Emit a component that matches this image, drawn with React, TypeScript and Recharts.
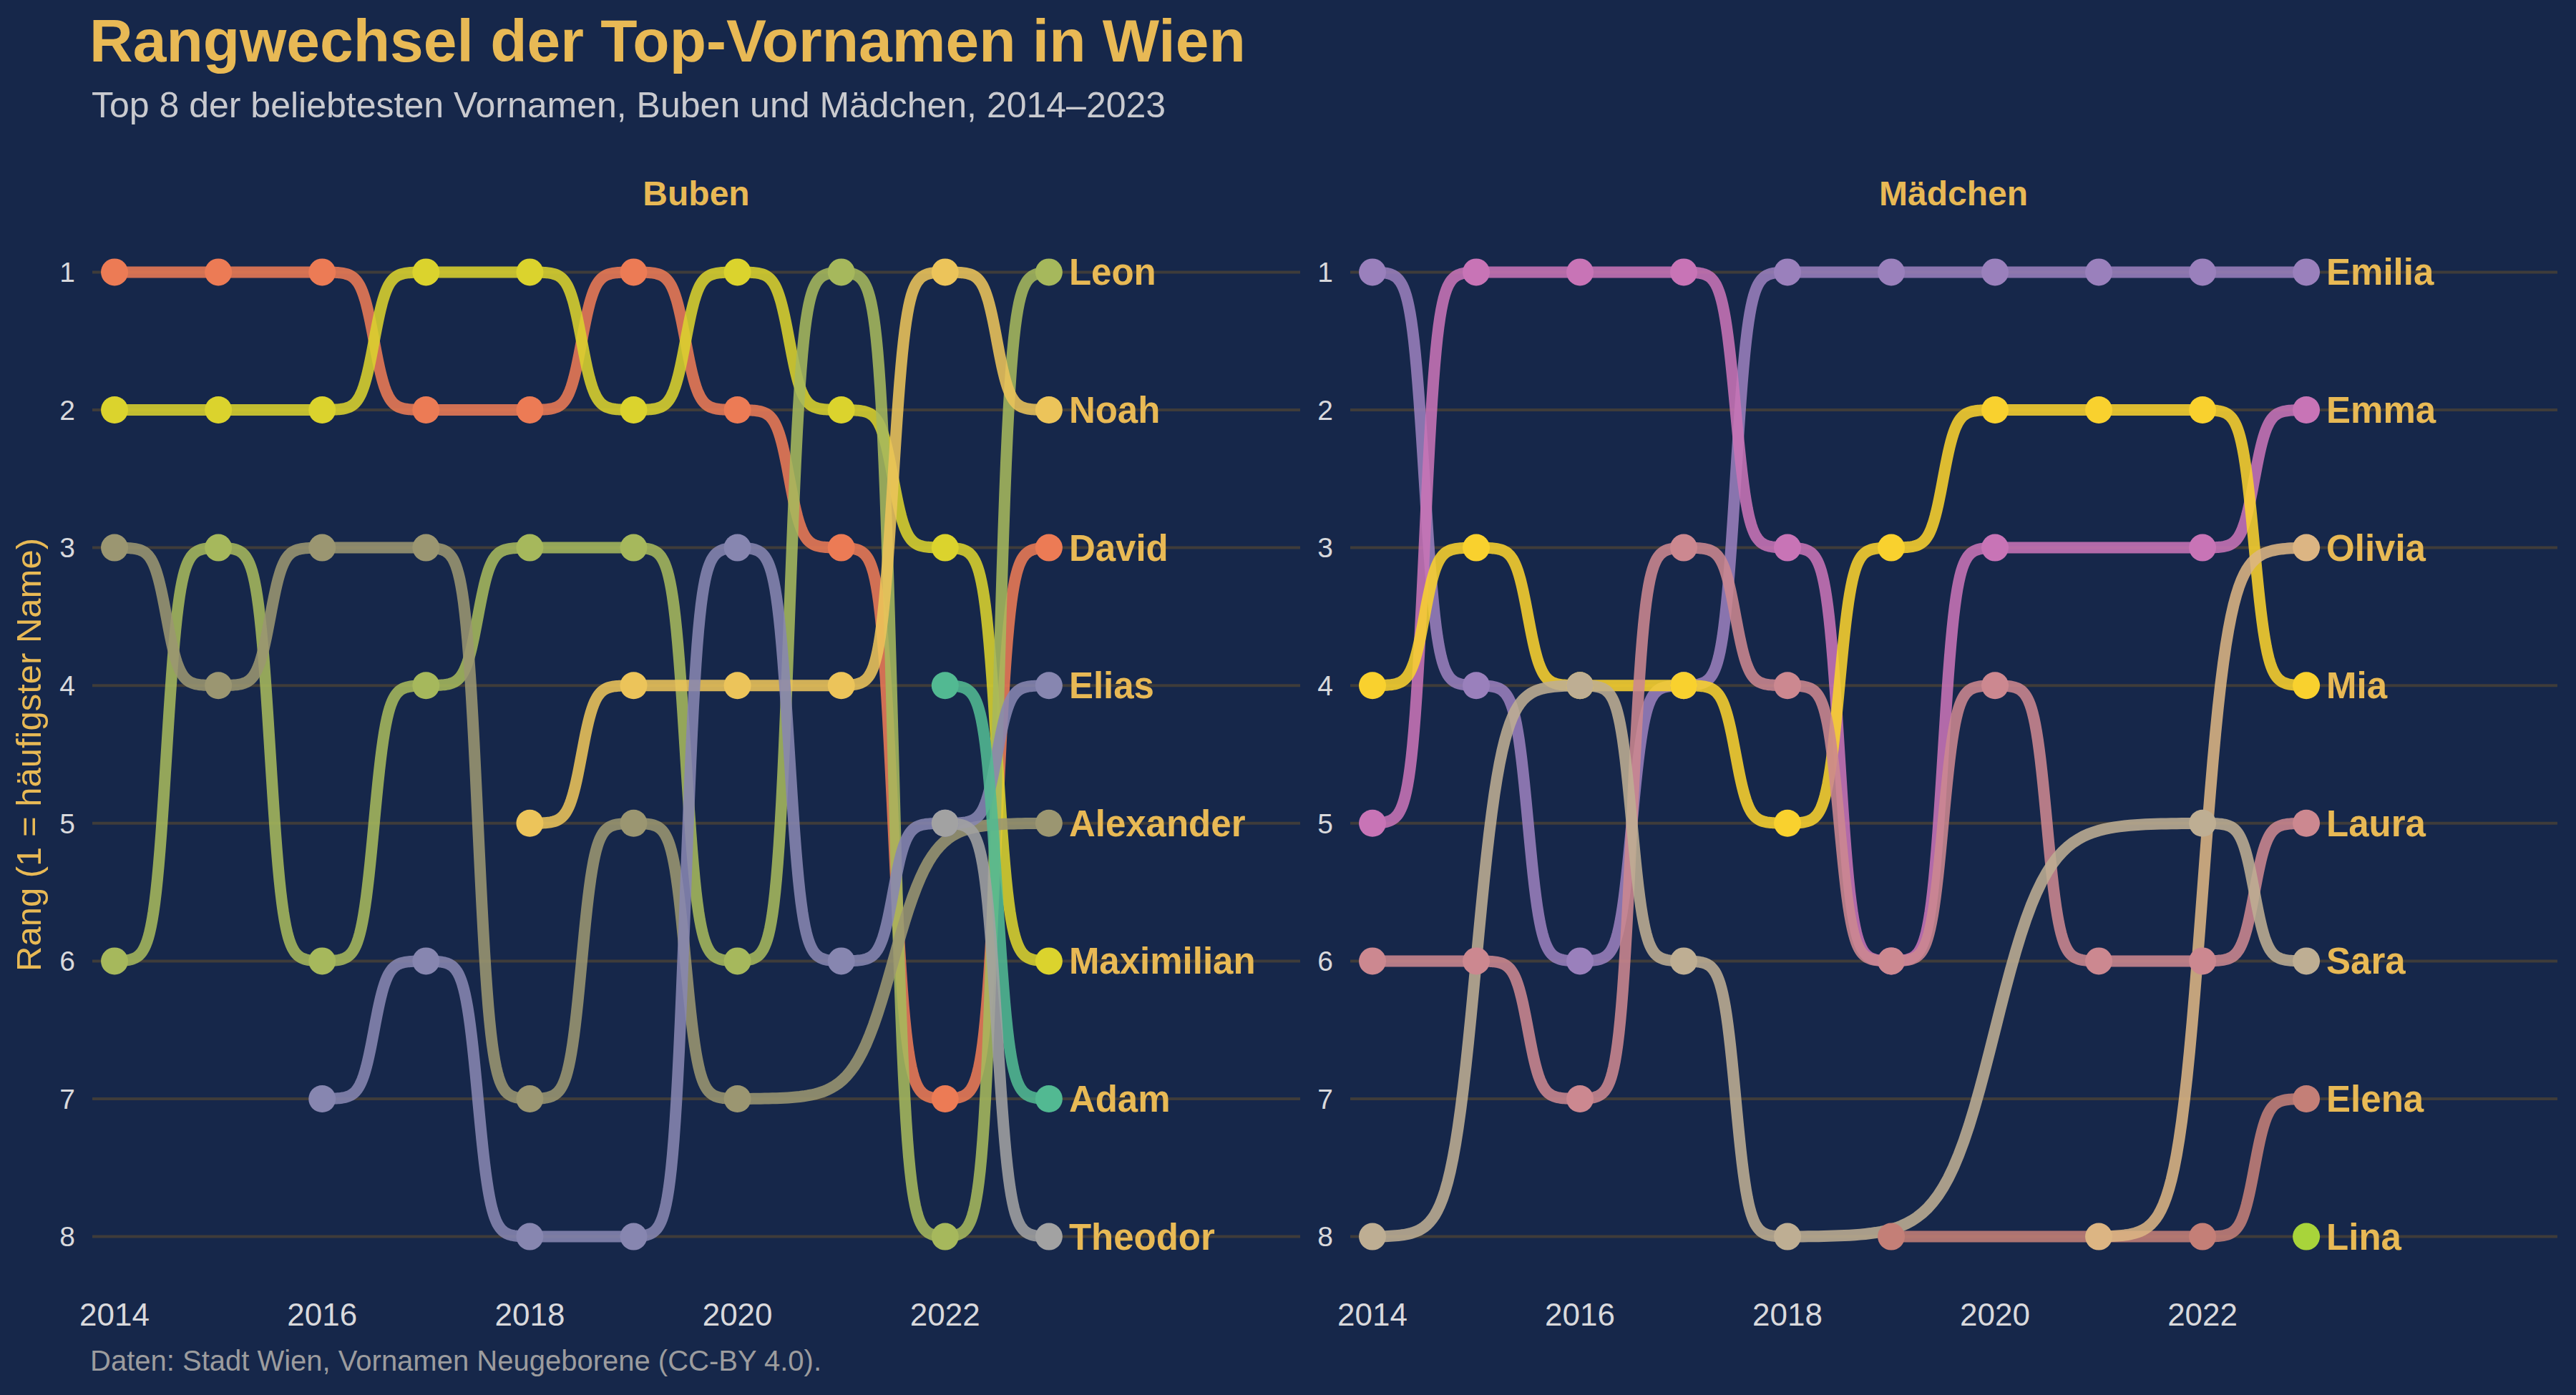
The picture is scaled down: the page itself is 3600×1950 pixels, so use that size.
import React from "react";
import { LineChart, Line, XAxis, YAxis, ReferenceLine } from "recharts";

const YEARS = [2014, 2015, 2016, 2017, 2018, 2019, 2020, 2021, 2022, 2023];
const RANK_TICKS = [1, 2, 3, 4, 5, 6, 7, 8];
const YEAR_TICKS = [2014, 2016, 2018, 2020, 2022];

// Buben: Rang je Jahr (null = nicht in den Top 8)
const DAVID = [1, 1, 1, 2, 2, 1, 2, 3, 7, 3];
const MAXIMILIAN = [2, 2, 2, 1, 1, 2, 1, 2, 3, 6];
const LEON = [6, 3, 6, 4, 3, 3, 6, 1, 8, 1];
const NOAH = [null, null, null, null, 5, 4, 4, 4, 1, 2];
const ALEXANDER = [3, 4, 3, 3, 7, 5, 7, null, null, 5];
const ELIAS = [null, null, 7, 6, 8, 8, 3, 6, 5, 4];
const ADAM = [null, null, null, null, null, null, null, null, 4, 7];
const THEODOR = [null, null, null, null, null, null, null, null, 5, 8];

// Mädchen
const EMILIA = [1, 4, 6, 4, 1, 1, 1, 1, 1, 1];
const EMMA = [5, 1, 1, 1, 3, 6, 3, null, 3, 2];
const MIA = [4, 3, 4, 4, 5, 3, 2, 2, 2, 4];
const LAURA = [6, 6, 7, 3, 4, 6, 4, 6, 6, 5];
const ELENA = [null, null, null, null, null, 8, null, null, 8, 7];
const SARA = [8, null, 4, 6, 8, null, null, null, 5, 6];
const OLIVIA = [null, null, null, null, null, null, null, 8, null, 3];
const LINA = [null, null, null, null, null, null, null, null, null, 8];

const BOYS = [
  { name: "David", values: DAVID, color: "#ec7b55" },
  { name: "Maximilian", values: MAXIMILIAN, color: "#dbd32d" },
  { name: "Leon", values: LEON, color: "#a6b85c" },
  { name: "Noah", values: NOAH, color: "#ecc45a" },
  { name: "Alexander", values: ALEXANDER, color: "#9b9671" },
  { name: "Elias", values: ELIAS, color: "#8786b0" },
  { name: "Adam", values: ADAM, color: "#52b992" },
  { name: "Theodor", values: THEODOR, color: "#a2a2a2" },
];

const GIRLS = [
  { name: "Emilia", values: EMILIA, color: "#9a80bc" },
  { name: "Emma", values: EMMA, color: "#c874b6" },
  { name: "Mia", values: MIA, color: "#f9d12e" },
  { name: "Laura", values: LAURA, color: "#cc8890" },
  { name: "Elena", values: ELENA, color: "#c47f77" },
  { name: "Sara", values: SARA, color: "#beae93" },
  { name: "Olivia", values: OLIVIA, color: "#dcb583" },
  { name: "Lina", values: LINA, color: "#a8d43a" },
];

const BG = "#16274a";
const GOLD = "#e8b955";
const FONT = "'Liberation Sans', Arial, Helvetica, sans-serif";

// sigmoid like ggbump (smooth = 8)
const SMOOTH = 8;
const STEPS = 80;
const logistic = (v: number) => 1 / (1 + Math.exp(-v));
const L0 = logistic(-SMOOTH);
const L1 = logistic(SMOOTH);

function bumpCurve(context: any) {
  let px = 0;
  let py = 0;
  let n = 0;
  return {
    areaStart() {},
    areaEnd() {},
    lineStart() {
      n = 0;
    },
    lineEnd() {},
    point(x: number, y: number) {
      x = +x;
      y = +y;
      if (n === 0) {
        context.moveTo(x, y);
      } else {
        for (let i = 1; i <= STEPS; i++) {
          const t = i / STEPS;
          const f = (logistic(-SMOOTH + 2 * SMOOTH * t) - L0) / (L1 - L0);
          context.lineTo(px + (x - px) * t, py + (y - py) * f);
        }
      }
      px = x;
      py = y;
      n++;
    },
  };
}

type Series = { name: string; values: (number | null)[]; color: string };

function buildRows(series: Series[]) {
  return YEARS.map((year, i) => {
    const row: Record<string, number | null> = { year };
    series.forEach((s) => {
      row[s.name] = s.values[i];
    });
    return row;
  });
}

const makeDot = (s: Series) => (props: any) => {
  const { cx, cy, index } = props;
  if (typeof cy !== "number" || typeof cx !== "number" || Number.isNaN(cy)) {
    return <g key={`${s.name}-dot-${index}`} />;
  }
  return (
    <g key={`${s.name}-dot-${index}`}>
      <circle cx={cx} cy={cy} r={19} fill={s.color} />
      {index === YEARS.length - 1 && (
        <text
          x={cx + 28}
          y={cy + 18}
          fill={GOLD}
          fontSize={51}
          fontWeight="bold"
          fontFamily={FONT}
        >
          {s.name}
        </text>
      )}
    </g>
  );
};

function Panel({ series, width, yAxisWidth, marginLeft, marginRight }: {
  series: Series[];
  width: number;
  yAxisWidth: number;
  marginLeft: number;
  marginRight: number;
}) {
  const data = buildRows(series);
  return (
    <LineChart
      width={width}
      height={1950}
      data={data}
      margin={{ top: 313, right: marginRight, bottom: 94, left: marginLeft }}
    >
      <XAxis
        dataKey="year"
        type="number"
        domain={[2013.786, 2025.42]}
        ticks={YEAR_TICKS}
        interval={0}
        tickLine={false}
        axisLine={false}
        tickSize={0}
        tickMargin={26}
        height={60}
        tick={{ fill: "#d9d9dc", fontSize: 44, fontFamily: FONT }}
      />
      <YAxis
        type="number"
        reversed
        domain={[0.65, 8.35]}
        ticks={RANK_TICKS}
        interval={0}
        tickLine={false}
        axisLine={false}
        tickSize={0}
        tickMargin={24}
        width={yAxisWidth}
        tick={{ fill: "#d9d9dc", fontSize: 39, fontFamily: FONT }}
      />
      {RANK_TICKS.map((r) => (
        <ReferenceLine key={`grid-${r}`} y={r} stroke="#3f3c3a" strokeWidth={4} ifOverflow="visible" />
      ))}
      {series.map((s) => (
        <Line
          key={s.name}
          dataKey={s.name}
          type={bumpCurve as any}
          stroke={s.color}
          strokeWidth={16}
          strokeOpacity={0.88}
          connectNulls
          dot={makeDot(s)}
          activeDot={false}
          isAnimationActive={false}
        />
      ))}
    </LineChart>
  );
}

export default function App() {
  return (
    <div style={{ position: "relative", width: 3600, height: 1950, background: BG, overflow: "hidden" }}>
      <style>{"body{margin:0;}"}</style>
      <div style={{ position: "absolute", left: 0, top: 0 }}>
        <Panel series={BOYS} width={1840} yAxisWidth={100} marginLeft={29} marginRight={23} />
      </div>
      <div style={{ position: "absolute", left: 1840, top: 0 }}>
        <Panel series={GIRLS} width={1760} yAxisWidth={40} marginLeft={7} marginRight={26} />
      </div>
      <svg
        width={3600}
        height={1950}
        style={{ position: "absolute", left: 0, top: 0, pointerEvents: "none" }}
        fontFamily={FONT}
      >
        <text x={125} y={86} fontSize={84} fontWeight="bold" fill={GOLD}>
          Rangwechsel der Top-Vornamen in Wien
        </text>
        <text x={128} y={164} fontSize={50} fill="#c9cacf">
          Top 8 der beliebtesten Vornamen, Buben und Mädchen, 2014–2023
        </text>
        <text x={973} y={287} fontSize={48} fontWeight="bold" fill={GOLD} textAnchor="middle">
          Buben
        </text>
        <text x={2730} y={287} fontSize={48} fontWeight="bold" fill={GOLD} textAnchor="middle">
          Mädchen
        </text>
        <text
          x={57}
          y={1055}
          fontSize={49}
          fill={GOLD}
          textAnchor="middle"
          transform="rotate(-90 57 1055)"
        >
          Rang (1 = häufigster Name)
        </text>
        <text x={126} y={1916} fontSize={40} fill="#9c9c9e">
          Daten: Stadt Wien, Vornamen Neugeborene (CC-BY 4.0).
        </text>
      </svg>
    </div>
  );
}
